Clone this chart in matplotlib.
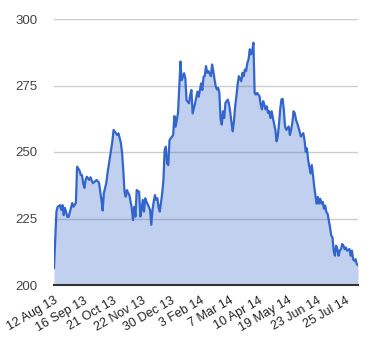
import matplotlib
matplotlib.use("Agg")
import matplotlib.pyplot as plt

plt.rcParams['font.family'] = ['Liberation Sans', 'DejaVu Sans']

# trading-day index and closing price
days = [0, 2, 3, 5, 6, 7, 8, 9, 11, 12, 14, 15, 16, 18, 19, 21, 22, 23, 24, 25,
        26, 27, 29, 30, 32, 34, 35, 37, 39, 40, 41, 43, 44, 46, 48, 49, 51, 52, 53, 55,
        56, 57, 58, 59, 60, 61, 62, 64, 65, 66, 67, 68, 70, 71, 72, 73, 74, 75, 76, 78,
        79, 80, 81, 82, 83, 84, 85, 86, 87, 89, 90, 91, 92, 93, 94, 95, 97, 98, 99, 100,
        101, 102, 104, 105, 107, 108, 109, 111, 112, 113, 114, 116, 118, 119, 121, 122, 123, 124, 125, 126,
        127, 129, 130, 131, 132, 133, 134, 135, 136, 137, 138, 139, 140, 141, 143, 144, 145, 146, 147, 148,
        149, 150, 151, 152, 154, 155, 156, 157, 158, 159, 160, 161, 162, 163, 164, 165, 166, 167, 169, 170,
        171, 172, 173, 174, 175, 176, 177, 178, 179, 180, 182, 183, 184, 185, 186, 187, 188, 189, 190, 191,
        193, 194, 195, 196, 197, 198, 199, 200, 202, 203, 205, 206, 207, 208, 209, 210, 211, 212, 213, 214,
        215, 216, 217, 218, 219, 220, 221, 222, 223, 224, 225, 226, 227, 228, 229, 230, 231, 232, 233, 234,
        235, 236, 237, 238, 239, 240, 241, 243, 244, 245, 246, 247, 248, 249, 250]
prices = [206.4, 227.6, 229.4, 230.0, 228.2, 230.0, 226.3, 229.0, 225.6, 225.6, 229.0, 230.8, 229.4, 230.8, 244.5, 243.0, 241.4, 241.3, 238.3, 236.5,
          239.5, 240.7, 239.5, 240.5, 238.3, 239.0, 239.5, 238.5, 232.0, 228.0, 234.6, 238.3, 242.0, 248.0, 254.0, 258.3, 257.0, 256.4, 257.0, 253.4,
          249.6, 243.0, 235.0, 233.2, 235.7, 234.6, 233.8, 228.8, 224.4, 229.4, 225.7, 235.7, 235.0, 225.7, 228.2, 232.0, 227.6, 232.6, 231.3, 229.4,
          228.2, 222.6, 228.2, 231.3, 233.8, 232.0, 232.6, 229.2, 227.6, 234.5, 239.5, 250.8, 252.0, 245.7, 245.1, 254.5, 255.8, 256.4, 263.5, 259.5,
          262.0, 264.7, 284.0, 277.0, 279.6, 277.7, 269.5, 268.3, 271.4, 273.3, 264.5, 268.3, 272.7, 270.8, 275.8, 273.3, 278.3, 278.5, 282.3, 279.8,
          280.4, 278.5, 282.9, 280.4, 277.3, 274.7, 273.5, 274.1, 272.2, 262.2, 260.3, 265.3, 262.8, 268.5, 269.7, 267.8, 264.7, 260.9, 257.8, 261.6,
          267.2, 271.0, 275.4, 278.5, 276.6, 279.8, 278.5, 281.0, 280.4, 283.5, 284.8, 288.6, 286.7, 287.9, 291.1, 272.2, 271.6, 272.2, 271.0, 267.8,
          266.0, 269.1, 267.8, 266.0, 267.2, 264.7, 265.3, 262.8, 265.3, 262.8, 258.4, 254.0, 255.9, 260.3, 266.0, 269.7, 270.0, 265.9, 259.6, 258.3,
          259.6, 256.4, 258.3, 260.9, 265.3, 264.6, 262.1, 260.9, 257.7, 255.8, 257.1, 254.5, 250.1, 251.4, 247.0, 244.4, 241.9, 245.1, 241.3, 236.9,
          233.7, 230.6, 233.1, 230.6, 232.4, 230.6, 231.2, 228.7, 229.9, 227.4, 226.8, 224.2, 221.7, 218.6, 217.9, 212.9, 211.0, 214.8, 213.5, 211.0,
          212.9, 213.5, 215.4, 214.8, 213.5, 214.1, 212.9, 213.5, 211.0, 212.9, 209.7, 209.1, 209.7, 207.8, 207.5]

tick_days = [0, 24, 48, 72, 96, 120, 144, 168, 192, 216, 240]
tick_labels = ['12 Aug 13', '16 Sep 13', '21 Oct 13', '22 Nov 13', '30 Dec 13', '3 Feb 14',
               '7 Mar 14', '10 Apr 14', '19 May 14', '23 Jun 14', '25 Jul 14']
y_ticks = [200, 225, 250, 275, 300]

fig = plt.figure(figsize=(3.8, 3.6), dpi=100)
ax = fig.add_axes([54 / 380, 1 - 285 / 360, 304 / 380, 266 / 360])

ax.fill_between(days, prices, 200, color='#3366cc', alpha=0.3, linewidth=0)
ax.plot(days, prices, color='#3366cc', linewidth=1.6)

ax.set_xlim(0, 250)
ax.set_ylim(200, 300)
ax.set_yticks(y_ticks)
ax.set_xticks(tick_days)
ax.set_xticklabels(tick_labels, rotation=30, ha='right', va='top', rotation_mode='anchor')
ax.tick_params(axis='x', length=0, pad=7, labelsize=9, labelcolor='#222222')
ax.tick_params(axis='y', length=0, pad=12, labelsize=9.5, labelcolor='#444444')

for v in y_ticks[1:]:
    ax.axhline(v, color='#cccccc', linewidth=1, zorder=0)
for s in ['top', 'right', 'left']:
    ax.spines[s].set_visible(False)
ax.spines['bottom'].set_color('#333333')
ax.spines['bottom'].set_linewidth(1.5)
ax.spines['bottom'].set_zorder(5)

fig.savefig('out.png', dpi=100)
